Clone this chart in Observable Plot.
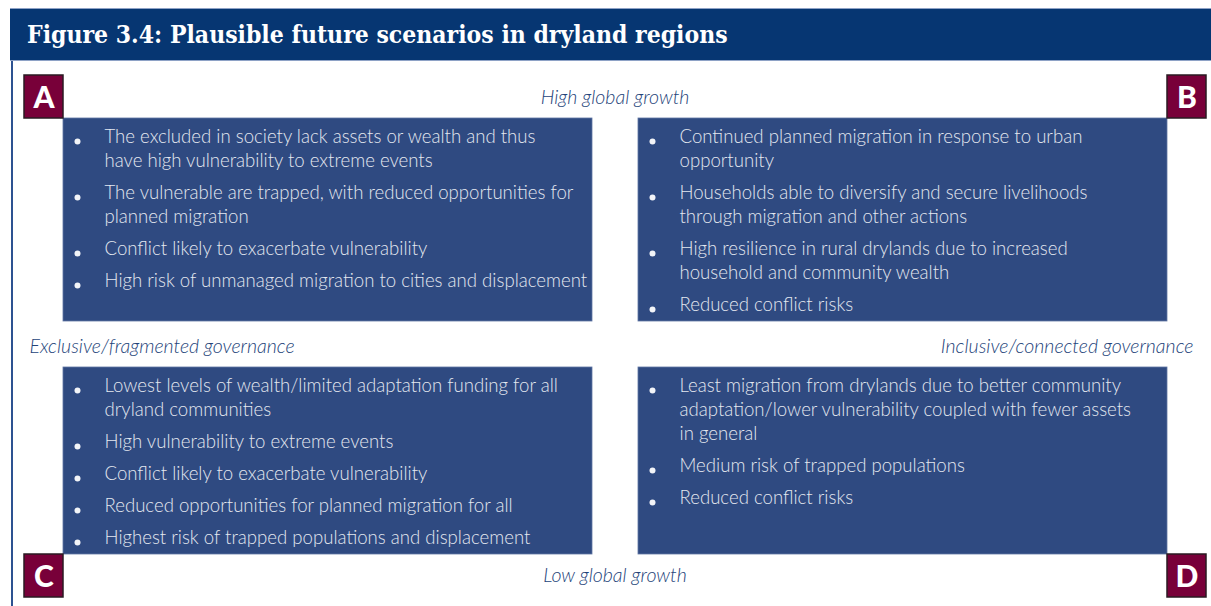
<!DOCTYPE html>
<html><head><meta charset="utf-8">
<script src="https://cdn.jsdelivr.net/npm/d3@7"></script>
<script src="https://cdn.jsdelivr.net/npm/@observablehq/plot@0.6"></script>
<style>
html,body{margin:0;padding:0;background:#fff;}
#title{margin:8px 0 0 10px;height:53px;width:1201px;background:#063672;border-top:1px solid #8ea2c6;border-bottom:1px solid #8ea2c6;box-sizing:border-box;color:#fff;font-family:"DejaVu Serif",serif;font-weight:bold;font-stretch:condensed;font-size:24.5px;line-height:51px;padding-left:17px;white-space:nowrap;}
#chart svg{display:block;}
</style></head>
<body>
<div id="title"></div>
<div id="chart"></div>
<script>
const title = "Figure 3.4: Plausible future scenarios in dryland regions";
const letters = ["A", "B", "C", "D"];
const growth = ["High global growth", "Low global growth"];
const governance = ["Exclusive/fragmented governance", "Inclusive/connected governance"];
const bulletsA = [
  ["The excluded in society lack assets or wealth and thus", "have high vulnerability to extreme events"],
  ["The vulnerable are trapped, with reduced opportunities for", "planned migration"],
  ["Conflict likely to exacerbate vulnerability"],
  ["High risk of unmanaged migration to cities and displacement"]
];
const bulletsB = [
  ["Continued planned migration in response to urban", "opportunity"],
  ["Households able to diversify and secure livelihoods", "through migration and other actions"],
  ["High resilience in rural drylands due to increased", "household and community wealth"],
  ["Reduced conflict risks"]
];
const bulletsC = [
  ["Lowest levels of wealth/limited adaptation funding for all", "dryland communities"],
  ["High vulnerability to extreme events"],
  ["Conflict likely to exacerbate vulnerability"],
  ["Reduced opportunities for planned migration for all"],
  ["Highest risk of trapped populations and displacement"]
];
const bulletsD = [
  ["Least migration from drylands due to better community", "adaptation/lower vulnerability coupled with fewer assets", "in general"],
  ["Medium risk of trapped populations"],
  ["Reduced conflict risks"]
];
const scenarioBullets = [bulletsA, bulletsB, bulletsC, bulletsD];

document.getElementById("title").textContent = title;

// ---- layout (page pixel coordinates) ----
const W = 1211, H = 606, top0 = 61;
const colLeft = [63, 638], boxW = 529;
const rowTop = [118, 367], rowBottom = [321, 554];
const letterW = 39, letterH = 43;
const firstLine = 19, lineStep = 24, itemGap = 8;

const quads = letters.map((letter, i) => {
  const col = i % 2, row = Math.floor(i / 2);
  const x1 = colLeft[col], x2 = colLeft[col] + boxW, y1 = rowTop[row], y2 = rowBottom[row];
  const lx1 = col === 0 ? x1 - letterW : x2;
  const ly1 = row === 0 ? y1 - letterH : y2;
  return {letter, col, row, x1, x2, y1, y2, lx1, lx2: lx1 + letterW, ly1, ly2: ly1 + letterH};
});

const lines = [], dots = [];
quads.forEach((q, i) => {
  let y = q.y1 + firstLine;
  scenarioBullets[i].forEach(item => {
    dots.push({x: q.x1 + 14, y: y + 4});
    item.forEach(t => { lines.push({x: q.x1 + 41, y, text: t}); y += lineStep; });
    y += itemGap;
  });
});

const centerLabels = [
  {text: growth[0], x: W / 2 + 9, y: 97},
  {text: growth[1], x: W / 2 + 9, y: 575}
];
const leftLabels = [{text: governance[0], x: 29, y: 346}];
const rightLabels = [{text: governance[1], x: 1193, y: 346}];
const labelStyle = {x: "x", y: "y", text: "text", lineAnchor: "middle", fill: "#244379", fontSize: 19.5, fontStyle: "italic", fontWeight: 300, fontFamily: "Lato"};

const plot = Plot.plot({
  width: W, height: H - top0,
  margin: 0,
  x: {domain: [0, W], range: [0, W], axis: null},
  y: {domain: [top0, H], range: [0, H - top0], axis: null},
  marks: [
    Plot.ruleX([11.5], {y1: top0, y2: H, stroke: "#2d5291", strokeWidth: 2}),
    Plot.rect(quads, {x1: "x1", x2: "x2", y1: "y1", y2: "y2", fill: "#2f4a81", stroke: "#5f76a4", strokeWidth: 0.8}),
    Plot.rect(quads, {x1: "lx1", x2: "lx2", y1: "ly1", y2: "ly2", fill: "#780039", stroke: "#2a1a22", strokeWidth: 1.5}),
    Plot.text(quads, {x: d => (d.lx1 + d.lx2) / 2, y: d => (d.ly1 + d.ly2) / 2 + 1, text: "letter", fill: "#fff", fontSize: 30, fontWeight: 900, fontFamily: "Lato", lineAnchor: "middle"}),
    Plot.dot(dots, {x: "x", y: "y", r: 3, fill: "#f2f4f8", stroke: null}),
    Plot.text(lines, {x: "x", y: "y", text: "text", textAnchor: "start", lineAnchor: "middle", fill: "#e4e8f0", fontSize: 18.6, fontWeight: 300, fontFamily: "Lato"}),
    Plot.text(centerLabels, {...labelStyle, textAnchor: "middle"}),
    Plot.text(leftLabels, {...labelStyle, textAnchor: "start"}),
    Plot.text(rightLabels, {...labelStyle, textAnchor: "end"})
  ]
});
document.getElementById("chart").appendChild(plot);
</script>
</body></html>
